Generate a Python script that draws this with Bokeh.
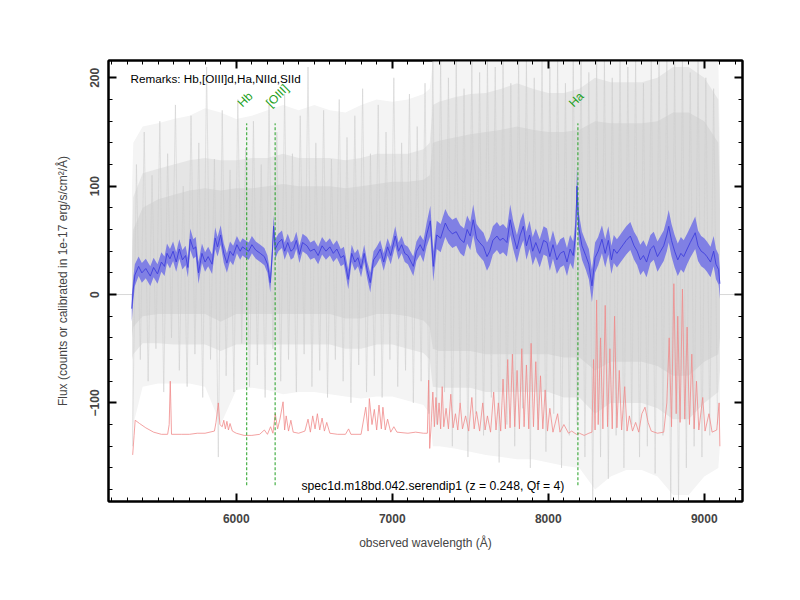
import math
from bokeh.plotting import figure
from bokeh.models import Range1d, FixedTicker, LinearAxis, Span, Label
from bokeh.embed import file_html
from bokeh.resources import INLINE

# ---------------- data ----------------
# density levels of the raw (grey) spectrum
env_wl = [5332, 5340, 5400, 5500, 5600, 5700, 5800, 5900,
          6000, 6100, 6200, 6300, 6400, 6500, 6600, 6700, 6800, 6900, 7000, 7100, 7200,
          7240, 7260,
          7300, 7400, 7500, 7600, 7700, 7800, 7900, 8000, 8100, 8200, 8300, 8400, 8500,
          8600, 8700, 8800, 8900, 9000,
          9090, 9100]
outer_hi = [100, 140, 155, 158, 162, 165, 172, 168,
            162, 165, 170, 175, 170, 175, 170, 168, 175, 180, 178, 180, 185,
            190, 216,
            216, 216, 216, 216, 216, 216, 216, 216, 216, 216, 216, 216, 216,
            216, 216, 216, 216, 216,
            216, 140]
outer_lo = [-140, -120, -85, -82, -82, -82, -85, -120,
            -88, -86, -88, -92, -90, -90, -92, -94, -96, -94, -94, -98, -102,
            -110, -140,
            -140, -142, -145, -148, -150, -152, -152, -155, -158, -160, -180, -168, -162,
            -162, -168, -185, -185, -168,
            -160, -140]
mid_hi = [50, 90, 112, 116, 120, 124, 126, 124,
          124, 126, 126, 130, 126, 126, 126, 124, 126, 130, 130, 130, 134,
          140, 175,
          178, 182, 185, 186, 190, 195, 190, 186, 186, 190, 200, 196, 196,
          196, 200, 210, 210, 200,
          180, 100]
mid_lo = [-60, -55, -45, -45, -46, -46, -46, -52,
          -46, -46, -46, -46, -46, -46, -46, -50, -50, -46, -46, -50, -54,
          -60, -85,
          -86, -86, -86, -90, -90, -90, -90, -90, -95, -95, -110, -100, -100,
          -100, -105, -115, -115, -100,
          -90, -70]
core_hi = [30, 60, 80, 88, 92, 96, 98, 96,
           98, 98, 100, 102, 100, 100, 100, 98, 100, 102, 104, 104, 106,
           110, 140,
           142, 145, 148, 150, 152, 155, 152, 150, 150, 152, 160, 158, 158,
           158, 160, 168, 168, 160,
           140, 80]
core_lo = [-40, -30, -20, -18, -18, -18, -18, -25,
           -18, -18, -18, -18, -18, -18, -18, -22, -22, -18, -18, -20, -24,
           -30, -50,
           -52, -52, -52, -55, -55, -55, -55, -55, -58, -58, -70, -62, -62,
           -62, -66, -75, -75, -62,
           -55, -40]

# raw spectrum extremes (grey streaks), sampled every 25 A
raw_wl = list(range(5335, 9100, 25))
raw_flux = [-140, 120, -60, 150, -80, 110, -50, 160, -90, 130,
            -40, 175, -70, 100, -85, 165, -55, 140, -95, 210,
            -60, 125, -150, 170, -75, 115, -90,
            180, -45, 135, -85, 160, -65, 120, -95, 175, -50,
            150, -80, 185, -60, 130, -90, 165, -55, 210, -85,
            140, -70, 170, -95, 125, -60, 180, -80, 145, -100,
            165, -65, 190, -90, 130, -75, 175, -95, 150, -60,
            200, -85, 140, -70, 185, -100, 155, -80, 195, -110,
            216, -120, 216, -90, 200, -140, 216, -100, 190, -150,
            216, -110, 205, -130, 216, -95, 210, -155, 216, -120,
            195, -140, 216, -105, 216, -160, 200, -125, 216, -145,
            210, -110, 216, -160, 195, -130, 216, -120, 216, -150,
            205, -191, 216, -150, 216, -170, 200, -130, 216, -160,
            210, -120, 216, -150, 195, -140, 216, -165, 216, -130,
            216, -191, 216, -191, 216, -160, 205, -140, 216, -150,
            200, -130, 190, -120]

# smoothed spectrum (blue) and its error
blue_wl = [5330, 5340, 5350, 5374, 5395, 5420, 5449, 5470, 5495, 5520,
           5540, 5556, 5575, 5595, 5615, 5635, 5655, 5675, 5690, 5705,
           5725, 5740, 5758, 5780, 5800, 5820, 5845, 5865, 5880, 5900,
           5920, 5940, 5960, 5980, 6004, 6025, 6040, 6058, 6080, 6100,
           6125, 6154, 6180, 6200, 6218, 6232, 6239, 6250, 6270, 6293,
           6310, 6330, 6350, 6367, 6385, 6405, 6425, 6453, 6475, 6500,
           6525, 6550, 6575, 6600, 6622, 6645, 6670, 6690, 6718, 6740,
           6760, 6780, 6800, 6820, 6840, 6859, 6880, 6900, 6923, 6945,
           6970, 6990, 7019, 7040, 7060, 7080, 7100, 7135, 7155, 7179,
           7200, 7220,
           7244, 7263, 7285, 7310, 7340, 7360, 7385, 7410, 7436, 7460,
           7480, 7500, 7519, 7540, 7560, 7585, 7607, 7625, 7645, 7671,
           7690, 7710, 7735, 7756, 7775, 7799, 7820, 7840, 7860, 7880,
           7900, 7920, 7945, 7970, 7992, 8010, 8030, 8055, 8077, 8100,
           8120, 8140, 8160, 8175, 8184, 8195, 8216, 8240, 8260, 8280,
           8300, 8320, 8344, 8365, 8385, 8405, 8420, 8440, 8460, 8480,
           8500, 8526, 8550, 8570, 8590, 8610, 8630, 8655, 8676, 8700,
           8720, 8740, 8760, 8772, 8790, 8810, 8830, 8850, 8868, 8890,
           8910, 8942, 8960, 8980, 9000, 9017, 9040, 9060, 9075, 9092,
           9100]
blue_flux = [-13, 5, 18, 26, 20, 24, 17, 25, 19, 30,
             26, 38, 33, 40, 30, 42, 32, 36, 25, 51,
             42, 44, 20, 38, 30, 35, 28, 52, 44, 55,
             38, 29, 40, 36, 46, 40, 44, 42, 40, 46,
             41, 38, 35, 28, 11, 40, 63, 42, 48, 51,
             40, 48, 40, 42, 50, 37, 48, 45, 40, 42,
             36, 45, 40, 44, 38, 42, 34, 36, 14, 38,
             30, 34, 24, 38, 22, 11, 32, 36, 42, 30,
             44, 36, 54, 40, 46, 38, 36, 26, 40, 46,
             40, 55,
             68, 26, 55, 52, 66, 60, 56, 58, 51, 48,
             60, 54, 69, 52, 48, 44, 35, 40, 50, 54,
             50, 52, 48, 69, 55, 42, 55, 63, 45, 55,
             40, 48, 38, 50, 48, 35, 46, 32, 38, 40,
             30, 42, 36, 55, 100, 62, 45, 36, 28, 8,
             34, 40, 51, 38, 50, 32, 42, 38, 42, 46,
             50, 54, 45, 40, 32, 36, 30, 42, 45, 35,
             40, 45, 55, 63, 50, 40, 32, 38, 35, 42,
             48, 57, 45, 40, 38, 35, 30, 40, 28, 23,
             10]
blue_err = [12, 11, 10, 9, 9, 9, 9, 9, 9, 9,
            9, 9, 9, 9, 9, 9, 9, 9, 9, 10,
            9, 9, 10, 9, 9, 9, 9, 10, 9, 9,
            9, 9, 9, 9, 8, 8, 8, 8, 8, 8,
            8, 8, 8, 8, 9, 9, 10, 9, 8, 8,
            8, 8, 8, 8, 8, 8, 8, 8, 8, 8,
            8, 8, 8, 8, 8, 8, 8, 8, 9, 8,
            8, 8, 8, 8, 8, 9, 8, 8, 8, 8,
            8, 8, 9, 8, 8, 8, 8, 9, 9, 9,
            10, 11,
            14, 14, 13, 13, 13, 13, 13, 13, 13, 13,
            13, 13, 14, 13, 13, 13, 13, 13, 13, 13,
            13, 13, 13, 14, 13, 13, 13, 13, 13, 13,
            13, 13, 13, 13, 13, 13, 13, 13, 13, 13,
            13, 13, 13, 14, 18, 14, 13, 13, 14, 15,
            14, 13, 13, 13, 13, 13, 13, 13, 13, 13,
            13, 13, 13, 13, 14, 14, 14, 13, 13, 14,
            14, 14, 15, 15, 15, 15, 15, 15, 15, 14,
            14, 15, 14, 14, 14, 14, 14, 14, 14, 14,
            14]

# error / sky spectrum (red), drawn with an offset baseline
red_wl = [5336, 5345, 5352, 5380, 5420, 5470, 5520, 5560, 5570, 5577, 5585, 5650, 5700, 5750,
          5800, 5860, 5870, 5885, 5895, 5910, 5920, 5930, 5940, 5950, 5960, 5975,
          6000, 6050, 6100, 6150, 6180, 6200, 6220, 6235, 6250, 6265, 6280, 6300, 6310,
          6320, 6335, 6350, 6365, 6400, 6440, 6460, 6475, 6490, 6505, 6520, 6535, 6550,
          6565, 6580, 6600, 6650, 6700, 6720, 6735, 6800, 6830, 6845, 6853, 6870, 6885,
          6900, 6915, 6930, 6940, 6955, 6970, 6990, 7010, 7030, 7100, 7150, 7200, 7225,
          7233, 7240, 7250, 7260, 7270, 7280, 7290, 7300, 7310, 7320, 7330, 7345, 7360,
          7375, 7390, 7405, 7420, 7435, 7450, 7470, 7490, 7510, 7525, 7540, 7560, 7580,
          7595, 7610, 7630, 7650, 7665, 7680, 7695, 7710, 7725, 7740, 7755, 7770, 7785,
          7800, 7815, 7830, 7845, 7860, 7875, 7890, 7905, 7920, 7935, 7950, 7965, 7980,
          7995, 8010, 8030, 8060, 8075, 8100, 8130, 8150, 8180, 8200, 8230, 8260, 8280,
          8290, 8300, 8310, 8320, 8335, 8350, 8365, 8380, 8395, 8410, 8425, 8440, 8455,
          8470, 8490, 8505, 8520, 8540, 8560, 8580, 8600, 8620, 8640, 8660, 8700, 8740,
          8760, 8775, 8790, 8805, 8820, 8830, 8845, 8860, 8875, 8890, 8905, 8920, 8935,
          8950, 8965, 8990, 9005, 9030, 9050, 9080, 9095, 9100]
red_flux = [-148, -130, -116, -119, -123, -127, -129, -129, -120, -80, -129, -129, -129, -128,
            -128, -126, -118, -100, -120, -122, -116, -124, -117, -125, -119, -126,
            -128, -130, -130, -129, -125, -129, -122, -128, -110, -124, -115, -99, -125,
            -112, -126, -116, -127, -128, -126, -115, -127, -112, -124, -110, -125, -114,
            -126, -118, -128, -129, -129, -124, -129, -129, -104, -126, -96, -120, -106,
            -125, -102, -124, -104, -125, -115, -127, -122, -127, -128, -127, -128, -128,
            -79, -142, -118, -90, -122, -95, -120, -100, -124, -85, -122, -105, -124,
            -92, -123, -110, -125, -100, -124, -112, -126, -95, -124, -108, -126, -100,
            -125, -112, -127, -90, -125, -100, -126, -78, -124, -60, -123, -55, -122,
            -70, -124, -50, -122, -65, -124, -45, -122, -62, -125, -75, -124, -88,
            -126, -105, -127, -110, -127, -120, -128, -126, -129, -128, -130, -128, -127,
            -60, -125, -5, -120, -40, -124, -10, -122, -50, -124, -20, -123, -70,
            -125, -85, -126, -112, -126, -118, -127, -110, -104, -118, -126, -128, -127,
            -100, -40, -122, 10, -110, -20, -118, 5, -115, -30, -120, -55, -124,
            -80, -125, -95, -126, -110, -127, -125, -100, -140]

# emission lines marked at z = 0.248
line_names = ["Hb", "[OIII]", "Ha"]
line_wl = [6067, 6249, 8190]
line_bottom = [-176, -176, -176]
line_top = [158, 158, 158]

x_major = [6000, 7000, 8000, 9000]
x_minor = list(range(5200, 9300, 100))
y_major = [-100, 0, 100, 200]
y_minor = list(range(-180, 220, 20))

remarks = "Remarks: Hb,[OIII]d,Ha,NIId,SIId"
caption = "spec1d.m18bd.042.serendip1 (z = 0.248, Qf = 4)"

assert len(env_wl) == len(mid_hi) == len(mid_lo) == len(outer_hi) == len(outer_lo)
assert len(env_wl) == len(core_hi) == len(core_lo)
assert len(raw_wl) == len(raw_flux), (len(raw_wl), len(raw_flux))
assert len(blue_wl) == len(blue_flux) == len(blue_err)
assert len(red_wl) == len(red_flux)

blue_lo = [f - e for f, e in zip(blue_flux, blue_err)]
blue_hi = [f + e for f, e in zip(blue_flux, blue_err)]

# ---------------- figure ----------------
FONT = "Liberation Sans"
p = figure(frame_width=634, frame_height=441,
           x_range=Range1d(5181, 9245), y_range=Range1d(-191, 216),
           output_backend="svg", toolbar_location=None,
           min_border_left=108, min_border_right=42,
           min_border_top=60, min_border_bottom=78,
           x_axis_label="observed wavelength (Å)",
           y_axis_label="Flux (counts or calibrated in 1e-17 erg/s/cm²/Å)")
p.grid.visible = False
p.outline_line_color = "black"
p.outline_line_width = 2
p.background_fill_color = "white"
p.border_fill_color = "white"

p.add_layout(Span(location=0, dimension="width", line_color="#d8d8d8",
                  line_width=1, level="underlay"))

p.varea(x=env_wl, y1=outer_lo, y2=outer_hi, fill_color="#f4f4f4")
p.varea(x=env_wl, y1=mid_lo, y2=mid_hi, fill_color="#e5e5e5")
p.varea(x=env_wl, y1=core_lo, y2=core_hi, fill_color="#d9d9d9")
p.line(raw_wl, raw_flux, line_color="#cdcdcd", line_width=0.6, line_alpha=0.9)
p.line(red_wl, red_flux, line_color="#f08a8a", line_width=0.8)
p.varea(x=blue_wl, y1=blue_lo, y2=blue_hi, fill_color="#8080e4")
p.line(blue_wl, blue_flux, line_color="#4040dc", line_width=0.9)

p.segment(x0=line_wl, y0=line_bottom, x1=line_wl, y1=line_top,
          line_color="#22a022", line_width=1, line_dash="3 2")
for name, wl, top in zip(line_names, line_wl, line_top):
    p.add_layout(Label(x=wl, y=top + 17, text=name, angle=math.pi / 4,
                       x_offset=-7, text_color="#22a022",
                       text_font=FONT, text_font_size="12px",
                       text_align="left", text_baseline="alphabetic"))

p.add_layout(Label(x=5322, y=199, text=remarks, text_font=FONT,
                   text_font_size="11.7px", text_color="black",
                   text_align="left", text_baseline="middle"))
p.add_layout(Label(x=7260, y=-177, text=caption, text_font=FONT,
                   text_font_size="12.2px", text_color="black",
                   text_align="center", text_baseline="middle"))

# axes
for ax in (p.xaxis[0], p.yaxis[0]):
    ax.axis_line_width = 2
    ax.major_tick_in = 8
    ax.major_tick_out = 0
    ax.minor_tick_in = 4
    ax.minor_tick_out = 0
    ax.major_tick_line_width = 2
    ax.minor_tick_line_width = 1
    ax.major_label_text_font = FONT
    ax.major_label_text_font_style = "bold"
    ax.major_label_text_font_size = "12px"
    ax.axis_label_text_font = FONT
    ax.axis_label_text_font_style = "normal"
    ax.axis_label_text_font_size = "12px"

p.xaxis[0].ticker = FixedTicker(ticks=x_major, minor_ticks=x_minor)
p.yaxis[0].ticker = FixedTicker(ticks=y_major, minor_ticks=y_minor)
p.xaxis[0].major_label_standoff = 12
p.xaxis[0].axis_label_standoff = 10
p.yaxis[0].major_label_standoff = 9
p.yaxis[0].axis_label_standoff = 18
p.yaxis[0].major_label_orientation = "vertical"

top_ax = LinearAxis(ticker=FixedTicker(ticks=x_major, minor_ticks=x_minor))
right_ax = LinearAxis(ticker=FixedTicker(ticks=y_major, minor_ticks=y_minor))
for ax in (top_ax, right_ax):
    ax.axis_line_width = 2
    ax.major_tick_in = 8
    ax.major_tick_out = 0
    ax.minor_tick_in = 4
    ax.minor_tick_out = 0
    ax.major_tick_line_width = 2
    ax.major_label_text_color = None
    ax.major_label_standoff = 0
p.add_layout(top_ax, "above")
p.add_layout(right_ax, "right")

open("out.html", "w").write(file_html(p, INLINE))
